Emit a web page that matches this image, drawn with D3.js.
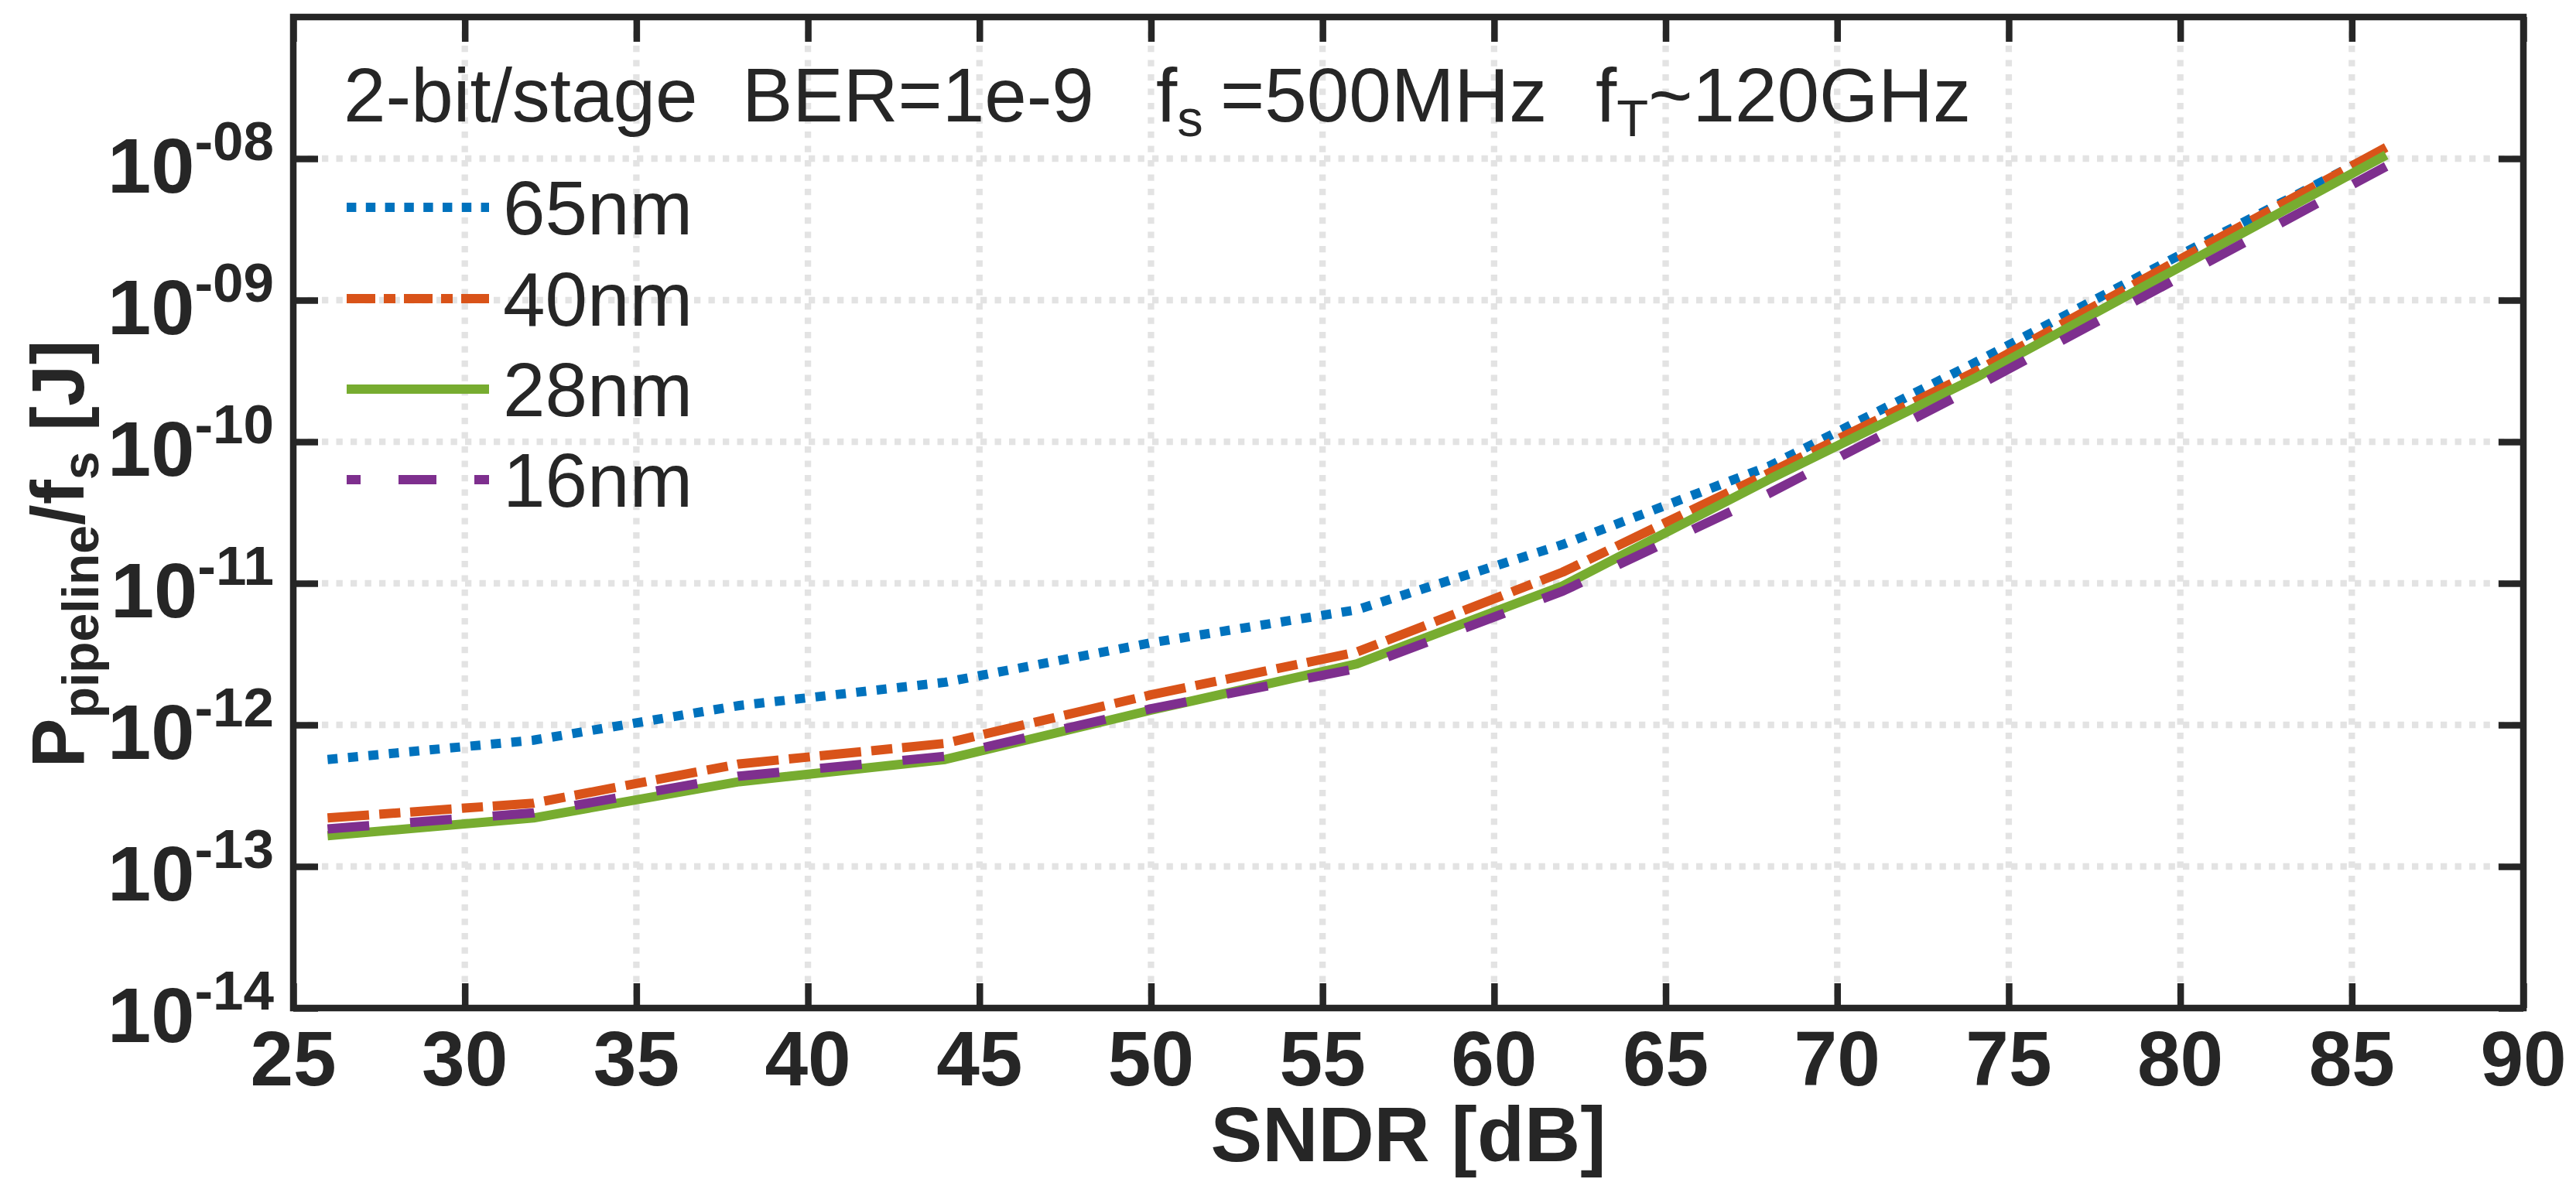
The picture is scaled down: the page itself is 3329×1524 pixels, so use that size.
<!DOCTYPE html>
<html>
<head>
<meta charset="utf-8">
<script src="https://cdn.jsdelivr.net/npm/d3@7"></script>
<style>
  html, body { margin: 0; padding: 0; background: #fff; }
  svg { display: block; }
  text { font-family: "Liberation Sans", Arial, Helvetica, sans-serif; fill: #262626; }
</style>
</head>
<body>
<svg id="chart" width="3329" height="1524"></svg>
<script>
// SNDR sample points [dB]
const sndr = [26, 32, 38, 44, 50, 56, 62, 68, 74, 80, 86];

// Energy per conversion P_pipeline / f_s [J] for each technology node
const energy65nm = [5.7e-13, 7.8e-13, 1.37e-12, 2.0e-12, 3.8e-12, 6.5e-12, 1.88e-11, 6.7e-11, 3.6e-10, 2.09e-9, 1.18e-8];
const energy40nm = [2.2e-13, 2.8e-13, 5.3e-13, 7.4e-13, 1.63e-12, 3.27e-12, 1.2e-11, 6.0e-11, 3.1e-10, 1.95e-9, 1.2e-8];
const energy28nm = [1.65e-13, 2.2e-13, 3.97e-13, 5.7e-13, 1.27e-12, 2.7e-12, 9.6e-12, 5.4e-11, 2.8e-10, 1.72e-9, 1.06e-8];
const energy16nm = [1.84e-13, 2.39e-13, 4.35e-13, 6.0e-13, 1.3e-12, 2.5e-12, 8.8e-12, 4.3e-11, 2.42e-10, 1.46e-9, 8.8e-9];

const seriesNames = ["65nm", "40nm", "28nm", "16nm"];
const seriesColors = ["#0072BD", "#D95319", "#77AC30", "#7E2F8E"];

// Axis ticks
const xTicks = [25, 30, 35, 40, 45, 50, 55, 60, 65, 70, 75, 80, 85, 90];
const yTicks = [1e-14, 1e-13, 1e-12, 1e-11, 1e-10, 1e-9, 1e-8];
const yTickExponents = ["-14", "-13", "-12", "-11", "-10", "-09", "-08"];

const series = [energy65nm, energy40nm, energy28nm, energy16nm].map((vals, i) => ({
  name: seriesNames[i],
  color: seriesColors[i],
  points: sndr.map((s, j) => [s, vals[j]])
}));

// Line styles: dotted, dash-dot, solid, dashed
const plotDash = ["13 13.5", "53.7 13.3 27.3 12.7", null, "54 53"];
const legendDash = ["12.4 12.4", "37 11 15 11", null, "49 49"];
const legendDashOffset = [0, 0, 0, 31];

const svg = d3.select("#chart");
const plot = { left: 379, right: 3261, top: 22, bottom: 1303 };
const ink = "#262626";
const axisWidth = 8.5;

const x = d3.scaleLinear().domain([25, 90]).range([plot.left, plot.right]);
const y = d3.scaleLog().domain([1e-14, 1e-7]).range([plot.bottom, plot.top]);

// Grid
const grid = svg.append("g").attr("class", "grid")
  .attr("stroke", "#e3e3e3").attr("stroke-width", 8.3).attr("stroke-dasharray", "8.3 10.2");
grid.selectAll("line.v").data(xTicks.slice(1, -1)).join("line")
  .attr("class", "v")
  .attr("x1", d => x(d)).attr("x2", d => x(d))
  .attr("y1", plot.top).attr("y2", plot.bottom);
grid.selectAll("line.h").data(yTicks.slice(1)).join("line")
  .attr("class", "h")
  .attr("x1", plot.left).attr("x2", plot.right)
  .attr("y1", d => y(d)).attr("y2", d => y(d));

// Data lines
const line = d3.line().x(d => x(d[0])).y(d => y(d[1]));
svg.append("g").attr("class", "series")
  .selectAll("path").data(series).join("path")
  .attr("d", d => line(d.points))
  .attr("fill", "none")
  .attr("stroke", d => d.color)
  .attr("stroke-width", 12)
  .attr("stroke-linejoin", "round")
  .attr("stroke-dasharray", (d, i) => plotDash[i]);

// Axes with inward ticks on all four sides
function styleAxis(g) {
  g.select(".domain").remove();
  g.selectAll(".tick line").attr("stroke", ink).attr("stroke-width", axisWidth);
  g.selectAll(".tick text").remove();
}
const tickLen = 32;
svg.append("g").attr("transform", `translate(0,${plot.bottom})`)
  .call(d3.axisBottom(x).tickValues(xTicks).tickSizeInner(-tickLen).tickSizeOuter(0)).call(styleAxis);
svg.append("g").attr("transform", `translate(0,${plot.top})`)
  .call(d3.axisTop(x).tickValues(xTicks).tickSizeInner(-tickLen).tickSizeOuter(0)).call(styleAxis);
svg.append("g").attr("transform", `translate(${plot.left},0)`)
  .call(d3.axisLeft(y).tickValues(yTicks).tickSizeInner(-tickLen).tickSizeOuter(0)).call(styleAxis);
svg.append("g").attr("transform", `translate(${plot.right},0)`)
  .call(d3.axisRight(y).tickValues(yTicks).tickSizeInner(-tickLen).tickSizeOuter(0)).call(styleAxis);

// Axes box
svg.append("rect")
  .attr("x", plot.left).attr("y", plot.top)
  .attr("width", plot.right - plot.left).attr("height", plot.bottom - plot.top)
  .attr("fill", "none").attr("stroke", ink).attr("stroke-width", axisWidth);

// X tick labels
svg.append("g").selectAll("text").data(xTicks).join("text")
  .attr("x", d => x(d)).attr("y", 1403)
  .attr("text-anchor", "middle")
  .attr("font-size", 100).attr("font-weight", "bold")
  .text(d => d);

// Y tick labels: 10 with superscript exponent
const yLab = svg.append("g").selectAll("text").data(yTicks).join("text")
  .attr("x", 354).attr("y", d => y(d) + 44)
  .attr("text-anchor", "end")
  .attr("font-weight", "bold");
yLab.append("tspan").attr("font-size", 101).text("10");
yLab.append("tspan").attr("font-size", 71).attr("dy", -42).text((d, i) => yTickExponents[i]);

// Axis titles
svg.append("text")
  .attr("x", (plot.left + plot.right) / 2).attr("y", 1501)
  .attr("text-anchor", "middle")
  .attr("font-size", 100).attr("font-weight", "bold")
  .text("SNDR [dB]");

const yTitle = svg.append("text")
  .attr("transform", "translate(108,716) rotate(-90)")
  .attr("text-anchor", "middle")
  .attr("font-size", 96).attr("font-weight", "bold");
yTitle.append("tspan").text("P");
yTitle.append("tspan").attr("font-size", 66).attr("dy", 19).text("pipeline");
yTitle.append("tspan").attr("dy", -19).text("/f");
yTitle.append("tspan").attr("font-size", 66).attr("dy", 19).text("s");
yTitle.append("tspan").attr("dy", -19).text(" [J]");

// Condition annotation
const note = svg.append("text").attr("y", 157).attr("font-size", 98);
note.append("tspan").attr("x", 444).text("2-bit/stage");
note.append("tspan").attr("x", 959).text("BER=1e-9");
note.append("tspan").attr("x", 1494).text("f");
note.append("tspan").attr("font-size", 67).attr("dy", 19).text("s");
note.append("tspan").attr("x", 1577).attr("dy", -19).text("=500MHz");
note.append("tspan").attr("x", 2062).text("f");
note.append("tspan").attr("font-size", 67).attr("dy", 19).text("T");
note.append("tspan").attr("dy", -19).text("~120GHz");

// Legend
const legendRows = [268, 386, 503, 620];
const legend = svg.append("g").attr("class", "legend");
legend.selectAll("line").data(series).join("line")
  .attr("x1", 448).attr("x2", 632)
  .attr("y1", (d, i) => legendRows[i]).attr("y2", (d, i) => legendRows[i])
  .attr("stroke", d => d.color).attr("stroke-width", 12)
  .attr("stroke-dasharray", (d, i) => legendDash[i])
  .attr("stroke-dashoffset", (d, i) => legendDashOffset[i]);
legend.selectAll("text").data(series).join("text")
  .attr("x", 650).attr("y", (d, i) => legendRows[i] + 35)
  .attr("font-size", 98)
  .text(d => d.name);
</script>
</body>
</html>
